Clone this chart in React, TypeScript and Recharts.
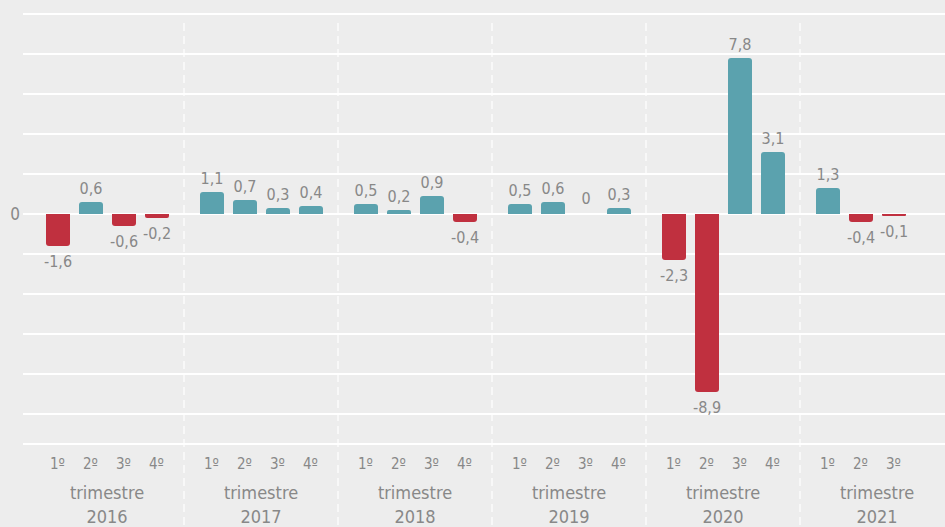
import { BarChart, Bar, XAxis, YAxis, CartesianGrid, LabelList } from 'recharts'

const years = ['2016', '2017', '2018', '2019', '2020', '2021']
const quarterLabels = ['1º', '2º', '3º', '4º']
const quarterKeys = ['q1', 'q2', 'q3', 'q4']

// variazioni per trimestre, un valore per anno
const q1Values = [-1.6, 1.1, 0.5, 0.5, -2.3, 1.3]
const q2Values = [0.6, 0.7, 0.2, 0.6, -8.9, -0.4]
const q3Values = [-0.6, 0.3, 0.9, 0, 7.8, -0.1]
const q4Values: (number | null)[] = [-0.2, 0.4, -0.4, 0.3, 3.1, null]

const yTicks = [-10, -8, -6, -4, -2, 0, 2, 4, 6, 8, 10]

const quarterValues = [q1Values, q2Values, q3Values, q4Values]

const chartData = years.map((year, i) => ({
  year,
  q1: q1Values[i],
  q2: q2Values[i],
  q3: q3Values[i],
  q4: q4Values[i],
}))

const TEAL = '#5ba2ae'
const RED = '#c0303f'
const TEXT = '#888888'
const FONT = '"Liberation Sans Narrow", "DejaVu Sans Condensed", "Roboto", sans-serif'
const BAR = 24
const GAP = 9

const formatValue = (v: number) => String(v).replace('.', ',')

const makeShape = (key: string) => (props: any) => {
  const { x, y, width, height, payload } = props
  const v = payload[key]
  if (v == null) return null
  const top = Math.min(y, y + height)
  const h = Math.abs(height)
  const w = width
  const r = Math.min(3, h / 2, w / 2)
  const d =
    v >= 0
      ? `M${x},${top + h} L${x},${top + r} Q${x},${top} ${x + r},${top} L${x + w - r},${top} Q${x + w},${top} ${x + w},${top + r} L${x + w},${top + h} Z`
      : `M${x},${top} L${x + w},${top} L${x + w},${top + h - r} Q${x + w},${top + h} ${x + w - r},${top + h} L${x + r},${top + h} Q${x},${top + h} ${x},${top + h - r} Z`
  return <path d={d} fill={v >= 0 ? TEAL : RED} />
}

const renderLabel = (props: any) => {
  const { x, y, width, height, value } = props
  if (value == null) return null
  const top = Math.min(y, y + height)
  const bottom = Math.max(y, y + height)
  const ty = value > 0 ? top - 8 : value === 0 ? top - 10 : bottom + 21
  return (
    <text x={x + width / 2} y={ty} textAnchor="middle" fill={TEXT} fontSize={16} fontFamily={FONT}>
      {formatValue(value)}
    </text>
  )
}

const YearTick = (props: any) => {
  const { x, payload, index } = props
  const yi = years.indexOf(payload.value)
  const count = quarterValues.filter((arr) => arr[yi] != null).length
  const band = 154
  return (
    <g>
      {index > 0 && (
        <line x1={x - band / 2} x2={x - band / 2} y1={23} y2={527} stroke="#ffffff" strokeWidth={1.2} strokeDasharray="8 5" />
      )}
      {quarterLabels.slice(0, count).map((q, i) => (
        <text key={q} x={x + (i - 1.5) * (BAR + GAP)} y={469} textAnchor="middle" fill={TEXT} fontSize={15} fontFamily={FONT}>
          {q}
        </text>
      ))}
      <text x={x} y={499} textAnchor="middle" fill={TEXT} fontSize={18} fontFamily={FONT}>
        trimestre
      </text>
      <text x={x} y={523} textAnchor="middle" fill={TEXT} fontSize={18} fontFamily={FONT}>
        {payload.value}
      </text>
    </g>
  )
}

const ZeroTick = (props: any) => {
  const { y, payload } = props
  if (payload.value !== 0) return null
  return (
    <text x={20} y={y + 6} textAnchor="end" fill={TEXT} fontSize={17} fontFamily={FONT}>
      0
    </text>
  )
}

export default function App() {
  return (
    <div style={{ position: 'absolute', left: 0, top: 0, width: 945, height: 527, overflow: 'hidden', background: '#ededed' }}>
      <BarChart
        width={960}
        height={527}
        data={chartData}
        margin={{ top: 14, right: 6, left: 0, bottom: 0 }}
        barGap={GAP}
      >
        <CartesianGrid vertical={false} stroke="#ffffff" strokeWidth={2} />
        <XAxis
          dataKey="year"
          height={83}
          padding={{ left: 7, right: 0 }}
          axisLine={{ stroke: '#ffffff', strokeWidth: 2 }}
          tickLine={false}
          tick={<YearTick />}
          interval={0}
        />
        <YAxis
          width={23}
          domain={[-11.5, 10]}
          ticks={yTicks}
          axisLine={false}
          tickLine={false}
          tick={<ZeroTick />}
        />
        {quarterKeys.map((key) => (
          <Bar key={key} dataKey={key} barSize={BAR} shape={makeShape(key)} isAnimationActive={false}>
            <LabelList dataKey={key} content={renderLabel} />
          </Bar>
        ))}
      </BarChart>
    </div>
  )
}
